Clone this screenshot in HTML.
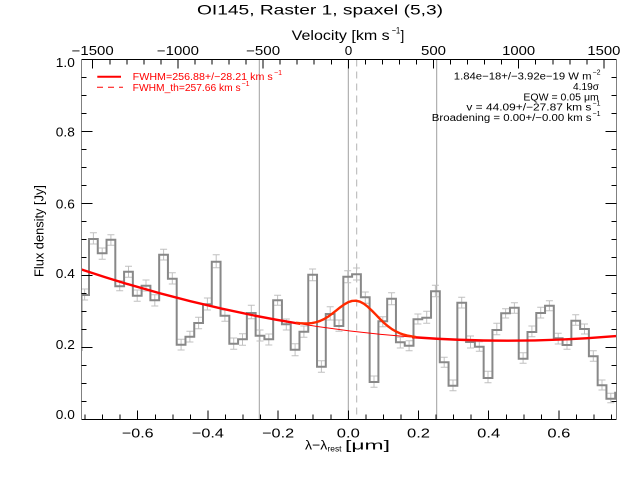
<!DOCTYPE html>
<html><head><meta charset="utf-8"><style>
html,body{margin:0;padding:0;background:#fff;}
svg{display:block;}
text{font-family:"Liberation Sans",sans-serif;}
</style></head><body>
<svg width="640" height="480" viewBox="0 0 640 480" xmlns="http://www.w3.org/2000/svg">
<defs>
<clipPath id="plot"><rect x="81.5" y="59.5" width="535" height="360"/></clipPath>
<clipPath id="cl"><rect x="81.5" y="59.5" width="218.5" height="360"/></clipPath>
<clipPath id="cr"><rect x="412" y="59.5" width="204.5" height="360"/></clipPath>
</defs>
<rect width="640" height="480" fill="#fff"/>

<!-- title -->
<text x="197" y="14.5" font-size="14" textLength="246" lengthAdjust="spacingAndGlyphs">OI145, Raster 1, spaxel (5,3)</text>
<!-- velocity label -->
<text x="291.7" y="40" font-size="13.5" textLength="98" lengthAdjust="spacingAndGlyphs">Velocity [km s</text>
<text x="391.7" y="33.5" font-size="9" textLength="8.5" lengthAdjust="spacingAndGlyphs">−1</text>
<text x="400.5" y="40" font-size="13.5">]</text>

<!-- vertical reference lines -->
<g clip-path="url(#plot)">
<path d="M259.3 59.5V419.5M348.3 59.5V419.5M436.7 59.5V419.5" stroke="#a0a0a0" stroke-width="1" fill="none"/>
<path d="M356.7 59.5V419.5" stroke="#b4b4b4" stroke-width="1" stroke-dasharray="7,5" fill="none"/>

<!-- error bars -->
<path fill="none" stroke="#c0c0c0" stroke-width="1" d="M84.6 289V300M81.1 289h7M81.1 300h7M93.4 232.7V244M89.9 232.7h7M89.9 244h7M102.2 248V259.3M98.7 248h7M98.7 259.3h7M110.9 234.7V245.3M107.4 234.7h7M107.4 245.3h7M119.7 280.7V290.7M116.2 280.7h7M116.2 290.7h7M128.5 266.3V277.3M125 266.3h7M125 277.3h7M137.2 290V301.3M133.7 290h7M133.7 301.3h7M146 280V291M142.5 280h7M142.5 291h7M154.8 294.7V306M151.3 294.7h7M151.3 306h7M163.6 249.3V260M160.1 249.3h7M160.1 260h7M172.3 272.7V284M168.8 272.7h7M168.8 284h7M181.1 339.3V350M177.6 339.3h7M177.6 350h7M189.9 331.3V342M186.4 331.3h7M186.4 342h7M198.6 317.3V328.7M195.1 317.3h7M195.1 328.7h7M207.4 298V310M203.9 298h7M203.9 310h7M216.2 254.7V267.7M212.7 254.7h7M212.7 267.7h7M224.9 310V321.3M221.4 310h7M221.4 321.3h7M233.7 338V349.3M230.2 338h7M230.2 349.3h7M242.5 333.7V345.3M239 333.7h7M239 345.3h7M251.3 305.3V318.7M247.8 305.3h7M247.8 318.7h7M260 330V341M256.5 330h7M256.5 341h7M268.8 334V345M265.3 334h7M265.3 345h7M277.6 295.3V305.3M274.1 295.3h7M274.1 305.3h7M286.3 319V330M282.8 319h7M282.8 330h7M295.1 343.7V355.7M291.6 343.7h7M291.6 355.7h7M303.9 326V337.3M300.4 326h7M300.4 337.3h7M312.6 269V280.7M309.1 269h7M309.1 280.7h7M321.4 360.7V372.3M317.9 360.7h7M317.9 372.3h7M330.2 306.7V320M326.7 306.7h7M326.7 320h7M339 320V331.3M335.5 320h7M335.5 331.3h7M347.7 270.7V282.7M344.2 270.7h7M344.2 282.7h7M356.5 268V280M353 268h7M353 280h7M365.3 292V303.3M361.8 292h7M361.8 303.3h7M374 376V387.3M370.5 376h7M370.5 387.3h7M382.8 316.7V326.7M379.3 316.7h7M379.3 326.7h7M391.6 292.7V304.7M388.1 292.7h7M388.1 304.7h7M400.3 337.3V348M396.8 337.3h7M396.8 348h7M409.1 340.7V350.7M405.6 340.7h7M405.6 350.7h7M417.9 314V324M414.4 314h7M414.4 324h7M426.7 311.3V323.3M423.2 311.3h7M423.2 323.3h7M435.4 285.3V296.7M431.9 285.3h7M431.9 296.7h7M444.2 357.3V367.3M440.7 357.3h7M440.7 367.3h7M453 380V390.7M449.5 380h7M449.5 390.7h7M461.7 297.3V308M458.2 297.3h7M458.2 308h7M470.5 336V348M467 336h7M467 348h7M479.3 341.7V351.3M475.8 341.7h7M475.8 351.3h7M488 371.3V382.7M484.5 371.3h7M484.5 382.7h7M496.8 323.3V334.7M493.3 323.3h7M493.3 334.7h7M505.6 308.7V318M502.1 308.7h7M502.1 318h7M514.4 302.7V313.3M510.9 302.7h7M510.9 313.3h7M523.1 352.7V363.3M519.6 352.7h7M519.6 363.3h7M531.9 326V336.7M528.4 326h7M528.4 336.7h7M540.7 307.3V318M537.2 307.3h7M537.2 318h7M549.4 300.7V310.7M545.9 300.7h7M545.9 310.7h7M558.2 333.3V344M554.7 333.3h7M554.7 344h7M567 340V349.3M563.5 340h7M563.5 349.3h7M575.7 314.7V325.3M572.2 314.7h7M572.2 325.3h7M584.5 324V334M581 324h7M581 334h7M593.3 350.7V361.3M589.8 350.7h7M589.8 361.3h7M602 380V390M598.5 380h7M598.5 390h7M610.8 393.3V402.7M607.3 393.3h7M607.3 402.7h7"/>

<!-- histogram -->
<path fill="none" stroke="#888" stroke-width="2" stroke-linejoin="miter" d="M81.5 351V295H89V239H97.77V253.3H106.54V239.7H115.31V286.3H124.08V271.7H132.85V295.7H141.62V285.7H150.39V300.3H159.16V254.7H167.93V278.7H176.7V344.7H185.47V336.7H194.24V323H203.01V304.3H211.78V261.7H220.55V315.7H229.32V343.7H238.09V339.3H246.86V313H255.63V335.7H264.4V339.3H273.17V300.3H281.94V324.3H290.71V349.7H299.48V331.7H308.25V274.7H317.02V366.7H325.79V314H334.56V326H343.33V276.7H352.1V274.3H360.87V297.3H369.64V382H378.41V321.3H387.18V298.7H395.95V342.3H404.72V345.7H413.49V319.3H422.26V317.7H431.03V291.3H439.8V362.3H448.57V385.7H457.34V302.7H466.11V342H474.88V346.7H483.65V378H492.42V330H501.19V313.3H509.96V307.7H518.73V358.7H527.5V332H536.27V313H545.04V305.7H553.81V338.3H562.58V345H571.35V320.7H580.12V329H588.89V356.3H597.66V385.3H606.43V398.7H615.2V392.7H617"/>

<!-- fit curves -->
<path d="M81 269.33Q348.5 358.89 616 336.06" fill="none" stroke="#ff0000" stroke-width="1"/>
<g clip-path="url(#cl)"><path d="M81 269.33Q348.5 358.89 616 336.06" fill="none" stroke="#ff0000" stroke-width="2.4"/></g>
<g clip-path="url(#cr)"><path d="M81 269.33Q348.5 358.89 616 336.06" fill="none" stroke="#ff0000" stroke-width="2.4"/></g>
<polyline fill="none" stroke="#ff2a00" stroke-width="2.4" stroke-linejoin="round" points="296,322.84 300,323.23 304,323.46 308,323.42 312,323.05 316,322.26 320,320.95 324,319.10 328,316.69 332,313.81 336,310.66 340,307.47 344,304.57 348,302.29 352,300.94 356,300.71 360,301.71 364,303.85 368,306.96 372,310.73 376,314.84 380,318.98 384,322.85 388,326.28 392,329.18 396,331.52 400,333.33 404,334.71 408,335.73 412,336.49 416,337.07"/>
</g>

<!-- frame -->
<g shape-rendering="crispEdges" fill="none" stroke-width="1">
<path d="M81.5 59.5H616.5M81.5 419.5H616.5" stroke="#000"/>
<path d="M81.5 59.5V419.5M616.5 59.5V419.5" stroke="#808080"/>
<!-- left/right ticks -->
<path stroke="#000" d="M81.5 131.5h11M81.5 203.5h11M81.5 275.5h11M81.5 347.5h11M81.5 77.5h5M81.5 95.5h5M81.5 113.5h5M81.5 149.5h5M81.5 167.5h5M81.5 185.5h5M81.5 221.5h5M81.5 239.5h5M81.5 257.5h5M81.5 293.5h5M81.5 311.5h5M81.5 329.5h5M81.5 365.5h5M81.5 383.5h5M81.5 401.5h5M616.5 131.5h-11M616.5 203.5h-11M616.5 275.5h-11M616.5 347.5h-11M616.5 77.5h-5M616.5 95.5h-5M616.5 113.5h-5M616.5 149.5h-5M616.5 167.5h-5M616.5 185.5h-5M616.5 221.5h-5M616.5 239.5h-5M616.5 257.5h-5M616.5 293.5h-5M616.5 311.5h-5M616.5 329.5h-5M616.5 365.5h-5M616.5 383.5h-5M616.5 401.5h-5"/>
<!-- bottom ticks -->
<path stroke="#000" d="M137.7 419.5v-9M207.9 419.5v-9M278.1 419.5v-9M348.3 419.5v-9M418.5 419.5v-9M488.7 419.5v-9M558.9 419.5v-9M85.05 419.5v-5M102.6 419.5v-5M120.15 419.5v-5M155.25 419.5v-5M172.8 419.5v-5M190.35 419.5v-5M225.45 419.5v-5M243 419.5v-5M260.55 419.5v-5M295.65 419.5v-5M313.2 419.5v-5M330.75 419.5v-5M365.85 419.5v-5M383.4 419.5v-5M400.95 419.5v-5M436.05 419.5v-5M453.6 419.5v-5M471.15 419.5v-5M506.25 419.5v-5M523.8 419.5v-5M541.35 419.5v-5M576.45 419.5v-5M594 419.5v-5M611.55 419.5v-5"/>
<!-- top ticks -->
<path stroke="#000" d="M92.73 59.5v9M177.92 59.5v9M263.11 59.5v9M348.3 59.5v9M433.49 59.5v9M518.68 59.5v9M603.87 59.5v9M109.77 59.5v5M126.81 59.5v5M143.85 59.5v5M160.88 59.5v5M194.96 59.5v5M212 59.5v5M229.03 59.5v5M246.07 59.5v5M280.15 59.5v5M297.19 59.5v5M314.22 59.5v5M331.26 59.5v5M365.34 59.5v5M382.38 59.5v5M399.41 59.5v5M416.45 59.5v5M450.53 59.5v5M467.57 59.5v5M484.6 59.5v5M501.64 59.5v5M535.72 59.5v5M552.76 59.5v5M569.79 59.5v5M586.83 59.5v5"/>
</g>

<!-- top tick labels -->
<g font-size="12.5" fill="#000">
<text x="71.7" y="55" textLength="42" lengthAdjust="spacingAndGlyphs">−1500</text>
<text x="156.9" y="55" textLength="42" lengthAdjust="spacingAndGlyphs">−1000</text>
<text x="246.1" y="55" textLength="34" lengthAdjust="spacingAndGlyphs">−500</text>
<text x="344.8" y="55" textLength="7.5" lengthAdjust="spacingAndGlyphs">0</text>
<text x="421" y="55" textLength="25" lengthAdjust="spacingAndGlyphs">500</text>
<text x="502.2" y="55" textLength="33" lengthAdjust="spacingAndGlyphs">1000</text>
<text x="587.4" y="55" textLength="33" lengthAdjust="spacingAndGlyphs">1500</text>
</g>

<!-- bottom tick labels -->
<g font-size="13" fill="#000">
<text x="121.9" y="437.5" textLength="31.7" lengthAdjust="spacingAndGlyphs">−0.6</text>
<text x="191.9" y="437.5" textLength="32" lengthAdjust="spacingAndGlyphs">−0.4</text>
<text x="262.1" y="437.5" textLength="32" lengthAdjust="spacingAndGlyphs">−0.2</text>
<text x="336.8" y="437.5" textLength="23" lengthAdjust="spacingAndGlyphs">0.0</text>
<text x="407" y="437.5" textLength="23" lengthAdjust="spacingAndGlyphs">0.2</text>
<text x="477.2" y="437.5" textLength="23" lengthAdjust="spacingAndGlyphs">0.4</text>
<text x="547.4" y="437.5" textLength="23" lengthAdjust="spacingAndGlyphs">0.6</text>
</g>

<!-- left tick labels -->
<g font-size="13" fill="#000">
<text x="55.8" y="67" textLength="19" lengthAdjust="spacingAndGlyphs">1.0</text>
<text x="55.8" y="136.5" textLength="19" lengthAdjust="spacingAndGlyphs">0.8</text>
<text x="55.8" y="208.3" textLength="19" lengthAdjust="spacingAndGlyphs">0.6</text>
<text x="55.8" y="278" textLength="19" lengthAdjust="spacingAndGlyphs">0.4</text>
<text x="55.8" y="349" textLength="19" lengthAdjust="spacingAndGlyphs">0.2</text>
<text x="55.8" y="419" textLength="19" lengthAdjust="spacingAndGlyphs">0.0</text>
</g>

<!-- axis titles -->
<text x="305" y="449.5" font-size="13" textLength="22.3" lengthAdjust="spacingAndGlyphs">λ−λ</text>
<text x="327.5" y="451.5" font-size="8.5" textLength="14" lengthAdjust="spacingAndGlyphs">rest</text>
<text x="345" y="449.5" font-size="13" textLength="45" lengthAdjust="spacingAndGlyphs">[μm]</text>
<text transform="translate(43.3,231) rotate(-90)" x="-46" y="0" font-size="13" textLength="92" lengthAdjust="spacingAndGlyphs">Flux density [Jy]</text>

<!-- legend -->
<path d="M97.3 76.7H121" stroke="#ff0000" stroke-width="2" fill="none"/>
<path d="M97 87.3H123" stroke="#ff0000" stroke-width="1" stroke-dasharray="6,5" fill="none"/>
<g fill="#ff0000" font-size="10">
<text x="132.7" y="79.8" textLength="140" lengthAdjust="spacingAndGlyphs">FWHM=256.88+/−28.21 km s</text>
<text x="274" y="75" font-size="7" textLength="8" lengthAdjust="spacingAndGlyphs">−1</text>
<text x="132.7" y="90.8" textLength="108" lengthAdjust="spacingAndGlyphs">FWHM_th=257.66 km s</text>
<text x="241.5" y="86" font-size="7" textLength="8" lengthAdjust="spacingAndGlyphs">−1</text>
</g>

<!-- annotations -->
<g fill="#000" font-size="10">
<text x="453.8" y="79.5" textLength="137.7" lengthAdjust="spacingAndGlyphs">1.84e−18+/−3.92e−19 W m</text>
<text x="592.5" y="74.5" font-size="7" textLength="8" lengthAdjust="spacingAndGlyphs">−2</text>
<text x="573" y="90" textLength="26" lengthAdjust="spacingAndGlyphs">4.19σ</text>
<text x="523.4" y="100.3" textLength="75.4" lengthAdjust="spacingAndGlyphs">EQW = 0.05 μm</text>
<text x="466.4" y="110.7" textLength="125" lengthAdjust="spacingAndGlyphs">v = 44.09+/−27.87 km s</text>
<text x="592.5" y="105.7" font-size="7" textLength="8" lengthAdjust="spacingAndGlyphs">−1</text>
<text x="431.8" y="121" textLength="159.7" lengthAdjust="spacingAndGlyphs">Broadening = 0.00+/−0.00 km s</text>
<text x="592.5" y="116" font-size="7" textLength="8" lengthAdjust="spacingAndGlyphs">−1</text>
</g>
</svg>
</body></html>
